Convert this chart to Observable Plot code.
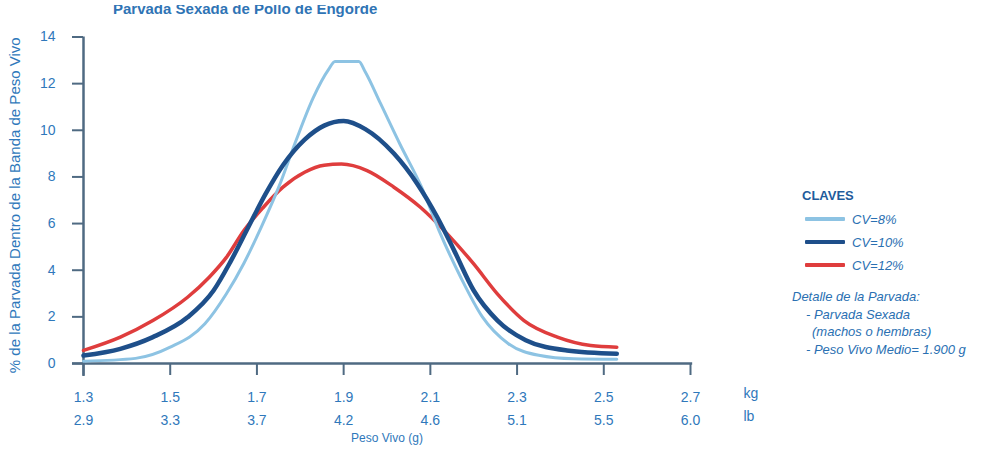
<!DOCTYPE html>
<html>
<head>
<meta charset="utf-8">
<script src="https://cdn.jsdelivr.net/npm/d3@7"></script>
<script src="https://cdn.jsdelivr.net/npm/@observablehq/plot@0.6"></script>
<style>
  body { margin: 0; background: #fff; font-family: "Liberation Sans", Arial, sans-serif; }
  #wrap { position: relative; width: 994px; height: 452px; overflow: hidden; background: #fff; }
  #title { position: relative; height: 17px; overflow: hidden; }
  #tclip { position: absolute; top: 5px; left: 0; right: 0; height: 12px; overflow: hidden; }
  #tclip span { position: absolute; left: 113px; top: -3.7px; line-height: 15px; font-size: 15px; font-weight: bold; color: #2f74b5; white-space: nowrap; }
  .lg { position: absolute; white-space: nowrap; color: #2a70b2; font-style: italic; font-size: 13px; line-height: 15px; }
  .sw { position: absolute; width: 40px; height: 4px; border-radius: 1px; }
</style>
</head>
<body>
<div id="wrap">
  <div id="title"><div id="tclip"><span id="ttext"></span></div></div>
  <div id="chart"></div>
  <div id="legend"></div>
</div>
<script>
const titleText = "Parvada Sexada de Pollo de Engorde";
const yLabel = "% de la Parvada Dentro de la Banda de Peso Vivo";
const xLabel = "Peso Vivo (g)";
const yTicks = [0, 2, 4, 6, 8, 10, 12, 14];
const kgTicks = [1.3, 1.5, 1.7, 1.9, 2.1, 2.3, 2.5, 2.7];
const lbTicks = ["2.9", "3.3", "3.7", "4.2", "4.6", "5.1", "5.5", "6.0"];
const seriesNames = ["CV=8%", "CV=10%", "CV=12%"];
const seriesColors = ["#8dc3e3", "#1e4f8a", "#df3d3d"];
const seriesWidths = [3, 4.5, 3.5];

const cv8X = [1.30, 1.42, 1.50, 1.58, 1.63, 1.67, 1.71, 1.75, 1.79, 1.83, 1.865, 1.88, 1.935, 1.95, 1.985, 2.03, 2.08, 2.12, 2.17, 2.22, 2.28, 2.35, 2.43, 2.53];
const cv8Y = [0.1, 0.22, 0.7, 1.7, 3.0, 4.3, 5.85, 7.55, 9.55, 11.4, 12.6, 12.95, 12.95, 12.5, 11.15, 9.4, 7.55, 5.7, 3.7, 2.0, 0.85, 0.35, 0.2, 0.18];
const cv10X = [1.30, 1.385, 1.46, 1.54, 1.60, 1.64, 1.68, 1.72, 1.76, 1.81, 1.855, 1.90, 1.95, 2.016, 2.07, 2.116, 2.155, 2.20, 2.255, 2.32, 2.415, 2.53];
const cv10Y = [0.34, 0.63, 1.13, 1.98, 3.13, 4.4, 5.84, 7.27, 8.5, 9.6, 10.2, 10.4, 10.05, 9.0, 7.7, 6.27, 4.84, 3.13, 1.84, 1.0, 0.56, 0.42];
const cv12X = [1.30, 1.385, 1.46, 1.54, 1.59, 1.63, 1.67, 1.715, 1.76, 1.81, 1.855, 1.895, 1.954, 2.016, 2.077, 2.139, 2.20, 2.254, 2.316, 2.393, 2.47, 2.53];
const cv12Y = [0.56, 1.13, 1.84, 2.84, 3.7, 4.56, 5.7, 6.7, 7.56, 8.2, 8.5, 8.55, 8.27, 7.56, 6.7, 5.56, 4.27, 3.0, 1.84, 1.13, 0.77, 0.7];

const legendTitle = "CLAVES";
const noteLines = ["Detalle de la Parvada:", "- Parvada Sexada", "(machos o hembras)", "- Peso Vivo Medio= 1.900 g"];

document.getElementById("ttext").textContent = titleText;

const seriesXs = [cv8X, cv10X, cv12X];
const seriesYs = [cv8Y, cv10Y, cv12Y];
const tables = seriesXs.map((xs, s) => xs.map((x, i) => ({x, y: seriesYs[s][i], series: seriesNames[s]})));

const lbMap = new Map(kgTicks.map((k, i) => [k, lbTicks[i]]));
const axisColor = "#4f6a82";
const labelColor = "#2f78bb";
const drawOrder = [2, 0, 1];

const chart = Plot.plot({
  width: 994,
  height: 435,
  marginLeft: 83,
  marginRight: 304,
  marginTop: 19.5,
  marginBottom: 89,
  x: {domain: [1.3, 2.7], axis: null},
  y: {domain: [0, 14], axis: null},
  style: {fontFamily: "'Liberation Sans', Arial, sans-serif", background: "white", overflow: "visible"},
  marks: [
    Plot.axisY({ticks: yTicks, label: null, tickSize: 11, tickPadding: 17, fontSize: 14, stroke: axisColor, strokeWidth: 2, fill: labelColor, tickFormat: d => String(d)}),
    Plot.axisX({ticks: kgTicks, label: null, tickSize: 12, tickPadding: 17, fontSize: 14, stroke: axisColor, strokeWidth: 2, fill: labelColor, tickFormat: d => d.toFixed(1)}),
    Plot.axisX({ticks: kgTicks, label: null, tickSize: 0, tickPadding: 52, fontSize: 14, fill: labelColor, tickFormat: d => lbMap.get(d)}),
    Plot.ruleY([0], {x1: 1.2746, x2: 2.705, stroke: axisColor, strokeWidth: 2.5}),
    Plot.ruleX([1.3], {y1: -0.56, y2: 14, stroke: axisColor, strokeWidth: 2.5}),
    ...drawOrder.map(s => Plot.line(tables[s], {x: "x", y: "y", stroke: seriesColors[s], strokeWidth: seriesWidths[s], curve: "monotone-x"})),
    Plot.text(["kg"], {frameAnchor: "bottom-right", dx: 53, dy: 34, textAnchor: "start", fontSize: 14, fill: labelColor}),
    Plot.text(["lb"], {frameAnchor: "bottom-right", dx: 53, dy: 57, textAnchor: "start", fontSize: 14, fill: labelColor}),
    Plot.text([xLabel], {frameAnchor: "bottom", dy: 78, fontSize: 12, fill: labelColor}),
    Plot.text([yLabel], {frameAnchor: "left", textAnchor: "middle", rotate: -90, dx: -68, dy: 5, fontSize: 15, fill: labelColor})
  ]
});
document.getElementById("chart").appendChild(chart);

// legend (HTML overlay to the right of the plot)
const legend = document.getElementById("legend");
function addText(txt, left, cy, extra) {
  const d = document.createElement("div");
  d.className = "lg";
  d.textContent = txt;
  d.style.left = left + "px";
  d.style.top = (cy - 7.5) + "px";
  if (extra) Object.assign(d.style, extra);
  legend.appendChild(d);
}
addText(legendTitle, 802, 195, {fontStyle: "normal", fontWeight: "bold", color: "#1f5c9c"});
const rowY = [219, 242, 265];
seriesNames.forEach((name, i) => {
  const sw = document.createElement("div");
  sw.className = "sw";
  sw.style.left = "805px";
  sw.style.top = (rowY[i] - 2) + "px";
  sw.style.background = seriesColors[i];
  legend.appendChild(sw);
  addText(name, 852, rowY[i]);
});
const noteLeft = [792, 806, 812, 806];
const noteY = [296, 314, 331, 349];
noteLines.forEach((t, i) => addText(t, noteLeft[i], noteY[i]));
</script>
</body>
</html>
